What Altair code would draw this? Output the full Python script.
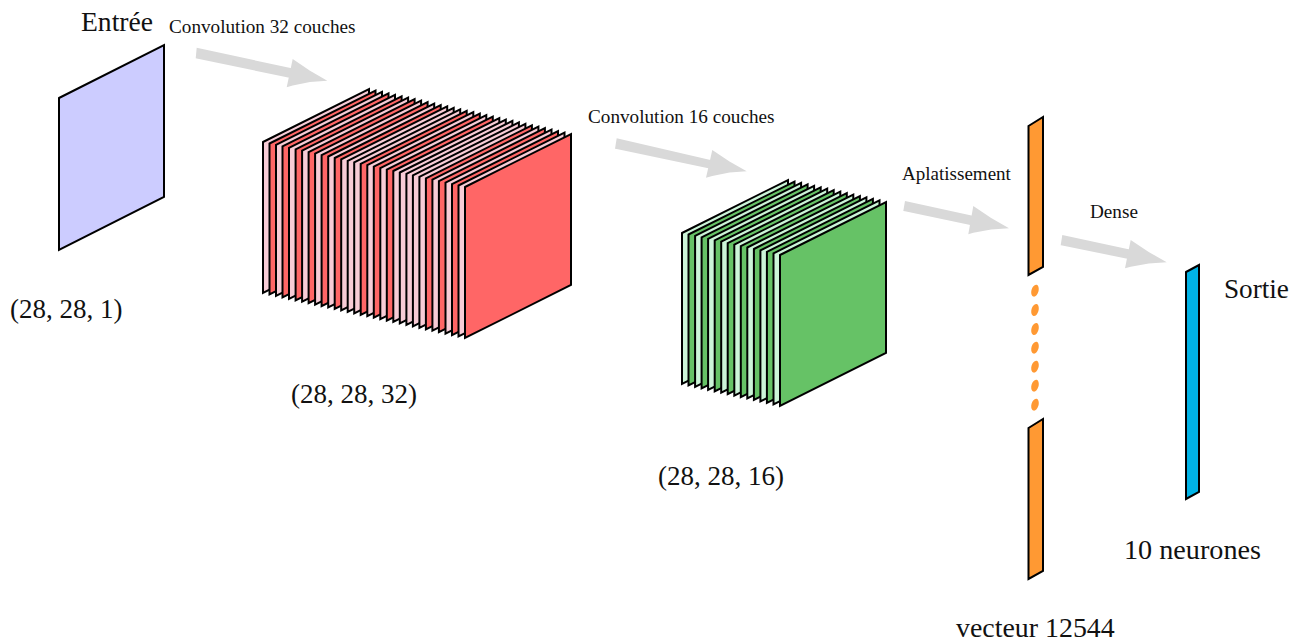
import altair as alt
import pandas as pd

# ---- diagram values (image coordinates) ----
FONT = "Liberation Serif"
LAYER_W = 106
LAYER_H = 151
LAYER_RISE = 53

input_x = [59, 164]
input_top = [98, 45]
input_bottom = [250, 197]

red_left = [263.0, 269.5, 276.0, 282.5, 289.0, 295.6, 302.1, 308.6, 315.1, 321.6, 328.2,
            334.7, 341.2, 347.7, 354.2, 360.7, 367.3, 373.8, 380.3, 386.8, 393.3, 399.8,
            406.4, 412.9, 419.4, 425.9, 432.4, 438.9, 445.5, 452.0, 458.5, 465.0]
red_top = [142.0, 143.5, 144.9, 146.4, 147.8, 149.3, 150.7, 152.2, 153.6, 155.1, 156.5,
           158.0, 159.4, 160.9, 162.3, 163.8, 165.2, 166.7, 168.1, 169.6, 171.0, 172.5,
           173.9, 175.4, 176.8, 178.3, 179.7, 181.2, 182.6, 184.1, 185.5, 187.0]
red_kind = list("PRPRPRPRPRPRPPPRPRPRPPPPPRPRPRPR")

green_left = [682.0, 688.5, 695.1, 701.6, 708.1, 714.7, 721.2, 727.7, 734.3, 740.8,
              747.3, 753.9, 760.4, 766.9, 773.5, 780.0]
green_top = [233.0, 234.5, 235.9, 237.4, 238.8, 240.3, 241.7, 243.2, 244.6, 246.1,
             247.5, 249.0, 250.4, 251.9, 253.3, 255.0]
green_kind = list("LGLGLGLGLGLGLGLG")

bar_x = [1028.5, 1043]
bar1_top = [126, 117]
bar1_bottom = [275, 267]
bar2_top = [428, 419]
bar2_bottom = [579, 571]
out_x = [1186, 1199]
out_top = [272, 265]
out_bottom = [499, 492]

dot_x = [1035, 1035, 1035, 1035, 1035, 1035, 1035]
dot_y = [290.7, 310, 329, 347.7, 366.7, 385.7, 404.7]

# tail_top, tail_bottom, join_top, join_bottom, barb_top, tip, barb_bottom
arrow_1 = [(196.7, 47.7), (195.7, 58.3), (291.7, 68.3), (289.3, 77.7), (292.7, 59.0), (327.3, 80.7), (286.7, 87.3)]
arrow_2 = [(616.7, 138.3), (615.0, 148.7), (710.7, 160.0), (708.3, 168.3), (712.3, 150.0), (746.7, 171.3), (706.0, 177.7)]
arrow_3 = [(905.0, 201.0), (903.3, 211.0), (972.3, 215.7), (970.3, 225.0), (973.3, 206.0), (1009.0, 228.3), (968.3, 234.3)]
arrow_4 = [(1062.3, 235.0), (1060.7, 245.3), (1129.0, 249.3), (1127.3, 258.7), (1130.7, 240.0), (1166.7, 262.3), (1125.0, 268.3)]

label_text = ["Entrée", "(28, 28, 1)", "(28, 28, 32)", "(28, 28, 16)", "vecteur 12544", "10 neurones", "Sortie",
              "Convolution 32 couches", "Convolution 16 couches", "Aplatissement", "Dense"]
label_x = [81, 10, 291, 658, 956, 1124, 1224, 169, 588, 902, 1090]
label_y = [31, 318, 403, 484.5, 636.5, 559, 298, 33, 123, 179.5, 218]
label_size = [27.6, 27, 27, 27, 27.9, 28.2, 27.2, 19.2, 19.2, 19.05, 19.2]

PALETTE = {"P": "#f8ccd6", "R": "#ff6666", "L": "#ccf5d8", "G": "#66c266"}

X = alt.X("x:Q", scale=alt.Scale(domain=[8, 1293]), axis=None)
Y = alt.Y("y:Q", scale=alt.Scale(domain=[643, 8]), axis=None)
Y2 = alt.Y2("y2:Q")


def panel(xs, tops, bottoms, fill):
    df = pd.DataFrame({"x": xs, "y": tops, "y2": bottoms})
    return alt.Chart(df).mark_area(orient="vertical", fill=fill, stroke="black", strokeWidth=2,
                                   strokeJoin="miter", opacity=1).encode(x=X, y=Y, y2=Y2)


def arrow(points):
    tt, tb, jt, jb, bt, tip, bb = points
    shaft = pd.DataFrame({
        "x": [tb[0], tt[0], jb[0], jt[0]],
        "y": [tb[1], tt[1], tt[1] + (jb[0] - tt[0]) * (jt[1] - tt[1]) / (jt[0] - tt[0]), jt[1]],
        "y2": [tb[1], tb[1] + (tt[0] - tb[0]) * (jb[1] - tb[1]) / (jb[0] - tb[0]), jb[1],
               jb[1] + (jt[0] - jb[0]) * (jb[1] - tb[1]) / (jb[0] - tb[0])],
    })
    mid_x = (bt[0] + tip[0]) / 2
    head = pd.DataFrame({
        "x": [bb[0], bt[0], mid_x, tip[0]],
        "y": [bb[1], bt[1], (bt[1] + tip[1]) / 2 + 0.8, tip[1]],
        "y2": [bb[1], bb[1] + (bt[0] - bb[0]) * (tip[1] - bb[1]) / (tip[0] - bb[0]) - 0.8,
               bb[1] + (mid_x - bb[0]) * (tip[1] - bb[1]) / (tip[0] - bb[0]) - 1.5, tip[1]],
    })
    return [alt.Chart(d).mark_area(orient="vertical", fill="#d9d9d9", opacity=1).encode(x=X, y=Y, y2=Y2)
            for d in (shaft, head)]


layers = []
for pts in (arrow_1, arrow_2, arrow_3, arrow_4):
    layers += arrow(pts)

layers.append(panel(input_x, input_top, input_bottom, "#ccccff"))

for lefts, tops, kinds in ((red_left, red_top, red_kind), (green_left, green_top, green_kind)):
    for lx, ty, kind in zip(lefts, tops, kinds):
        layers.append(panel([lx, lx + LAYER_W], [ty, ty - LAYER_RISE],
                            [ty + LAYER_H, ty + LAYER_H - LAYER_RISE], PALETTE[kind]))

layers.append(panel(bar_x, bar1_top, bar1_bottom, "#ff9933"))
layers.append(panel(bar_x, bar2_top, bar2_bottom, "#ff9933"))
layers.append(panel(out_x, out_top, out_bottom, "#00b3e6"))

ELLIPSE = "M0,-1C.32,-1 .58,-.55 .58,0C.58,.55 .32,1 0,1C-.32,1 -.58,.55 -.58,0C-.58,-.55 -.32,-1 0,-1Z"
layers.append(alt.Chart(pd.DataFrame({"x": dot_x, "y": dot_y})).mark_point(
    shape=ELLIPSE, filled=True, fill="#ff9933", size=150, angle=15, opacity=1
).encode(x=X, y=Y))

for t, lx, ly, fs in zip(label_text, label_x, label_y, label_size):
    layers.append(alt.Chart(pd.DataFrame({"x": [lx], "y": [ly], "t": [t]})).mark_text(
        align="left", baseline="alphabetic", font=FONT, fontSize=fs, color="#111111"
    ).encode(x=X, y=Y, text="t:N"))

chart = alt.layer(*layers).properties(
    width=1285, height=635, padding=0, autosize=alt.AutoSizeParams(type="none"),
    background="white"
).configure_view(stroke=None)

chart.save("out.html", embed_options={"renderer": "svg", "actions": False})
